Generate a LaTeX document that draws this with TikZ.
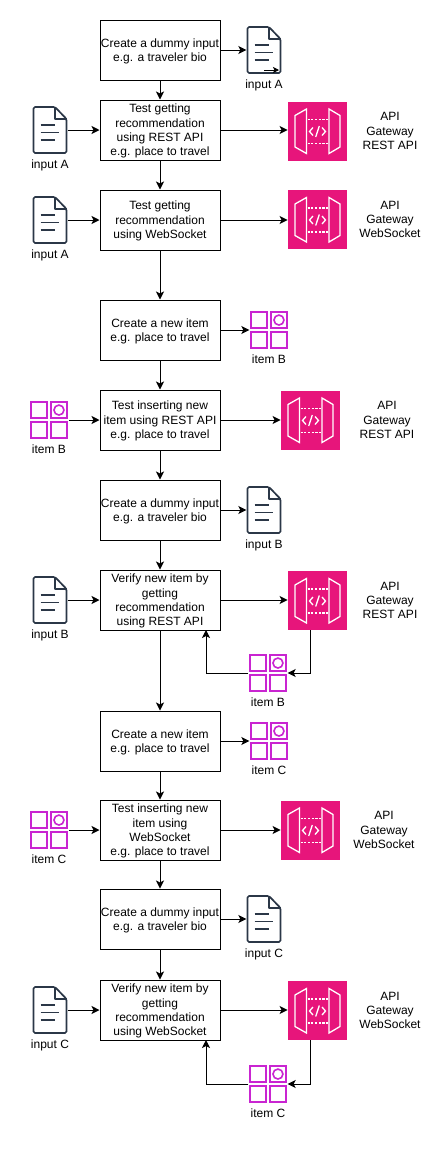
\documentclass[tikz,border=0pt]{standalone}
\usepackage{fontspec}
\setmainfont{Liberation Sans}
\usetikzlibrary{arrows.meta}
\definecolor{gwpink}{HTML}{E7157B}
\definecolor{docink}{HTML}{2B3747}
\definecolor{itemink}{HTML}{C925D1}
\tikzset{
  x=1pt,y=-1pt,
  flowbox/.style={draw=black,line width=1pt,minimum width=120pt,minimum height=60pt,inner sep=0pt},
  lbl/.style={inner sep=0pt,align=center,font=\fontsize{12}{14.4}\selectfont},
  conn/.style={draw=black,line width=1pt,-{Stealth[length=8pt,width=8pt,inset=2pt]}},
  smallconn/.style={draw=black,line width=0.8pt,-{Stealth[length=6pt,width=6pt,inset=1.5pt]}},
  docanchor/.style={minimum width=35pt,minimum height=47pt,inner sep=0pt},
  gwanchor/.style={minimum width=59.5pt,minimum height=59.5pt,inner sep=0pt},
  itemanchor/.style={minimum width=39pt,minimum height=39pt,inner sep=0pt},
  pics/docicon/.style={code={
    \draw[docink,line width=1.7pt,line join=round,rounded corners=1.5pt,fill=white]
      (-16.5,-23) -- (5,-23) -- (16.5,-11) -- (16.5,23) -- (-16.5,23) -- cycle;
    \draw[docink,line width=1.4pt,line join=round] (5,-23) -- (5,-11) -- (16.5,-11);
    \draw[docink,line width=1.5pt] (-9.3,-5) -- (5,-5) (-9.3,2.5) -- (9.3,2.5) (-9.3,10) -- (5,10);
  }},
  pics/itemicon/.style={code={
    \draw[itemink,line width=1.7pt,fill=white] (-18.2,-18.2) rectangle (-1.7,-1.7);
    \draw[itemink,line width=1.7pt,fill=white] (1.7,-18.2) rectangle (18.2,-1.7);
    \draw[itemink,line width=1.7pt,fill=white] (-18.2,1.7) rectangle (-1.7,18.2);
    \draw[itemink,line width=1.7pt,fill=white] (1.7,1.7) rectangle (18.2,18.2);
    \draw[itemink,line width=1.6pt] (9.95,-9.95) circle (5);
  }},
  pics/gwicon/.style={code={
    \fill[gwpink] (-29.5,-29.5) rectangle (29.5,29.5);
    \draw[white,line width=1.3pt,line join=miter]
      (-22.5,-15.5) -- (-11,-22) -- (-11,22.5) -- (-22.5,16) -- cycle;
    \draw[white,line width=1.3pt,line join=miter]
      (22.5,-15.5) -- (11.5,-22) -- (11.5,22.5) -- (22.5,16) -- cycle;
    \draw[white,line width=1.3pt,dash pattern=on 2.2pt off 1.5pt]
      (-10,-11.5) -- (10.5,-11.5) (-10,12.5) -- (10.5,12.5);
    \draw[white,line width=1.3pt] (-4.5,-3.5) -- (-8,0.5) -- (-4.5,4.5)
      (4.5,-3.5) -- (8,0.5) -- (4.5,4.5) (1.8,-5) -- (-1.8,6);
  }},
}
\newcommand{\flowat}[3]{% name, y, text
  \node[flowbox] (#1) at (160,#2) {};
  \node[lbl] (#1t) at (160,#2+1.2) {#3};
}
\newcommand{\docat}[4]{% name, x, y, label
  \pic at (#2,#3) {docicon};
  \node[docanchor] (#1) at (#2,#3) {};
  \node[lbl] (#1t) at (#2,#3+35) {#4};
}
\newcommand{\itemat}[4]{%
  \pic at (#2,#3) {itemicon};
  \node[itemanchor] (#1) at (#2,#3) {};
  \node[lbl] (#1t) at (#2,#3+29.5) {#4};
}
\newcommand{\gwat}[5]{% name,x,y,labelx,label
  \pic at (#2,#3) {gwicon};
  \node[gwanchor] (#1) at (#2,#3) {};
  \node[lbl] (#1t) at (#4,#3) {API\\Gateway\\#5};
}
\begin{document}
\begin{tikzpicture}
\useasboundingbox (0,0) rectangle (441,1149);
% boxes
\flowat{b1}{50}{Create a dummy input\\e.g. a traveler bio}
\flowat{b2}{130}{Test getting\\recommendation\\using REST API\\e.g. place to travel}
\flowat{b3}{220}{Test getting\\recommendation\\using WebSocket}
\flowat{b4}{330}{Create a new item\\e.g. place to travel}
\flowat{b5}{420}{Test inserting new\\item using REST API\\e.g. place to travel}
\flowat{b6}{510}{Create a dummy input\\e.g. a traveler bio}
\flowat{b7}{600}{Verify new item by\\getting\\recommendation\\using REST API}
\flowat{b8}{741}{Create a new item\\e.g. place to travel}
\flowat{b9}{830}{Test inserting new\\item using\\WebSocket\\e.g. place to travel}
\flowat{b10}{919}{Create a dummy input\\e.g. a traveler bio}
\flowat{b11}{1010}{Verify new item by\\getting\\recommendation\\using WebSocket}
% icons
\docat{d1}{264}{50}{input A}
\docat{d2}{50}{130}{input A}
\docat{d3}{50}{220}{input A}
\docat{d6}{264}{510}{input B}
\docat{d7}{50}{600}{input B}
\docat{d10}{264}{919}{input C}
\docat{d11}{50}{1010}{input C}
\itemat{i4}{269}{330}{item B}
\itemat{i5}{49}{420}{item B}
\itemat{i7}{268}{673}{item B}
\itemat{i8}{269}{741}{item C}
\itemat{i9}{49}{830}{item C}
\itemat{i11}{268}{1084}{item C}
\gwat{g2}{317.5}{131}{390}{REST API}
\gwat{g3}{317.5}{219.5}{390}{WebSocket}
\gwat{g5}{310.5}{420}{387}{REST API}
\gwat{g7}{317.5}{600.5}{390}{REST API}
\gwat{g9}{310.5}{830}{384}{WebSocket}
\gwat{g11}{317.5}{1010.5}{390}{WebSocket}
% vertical flow
\foreach \a/\b in {b1/b2,b2/b3,b3/b4,b4/b5,b5/b6,b6/b7,b7/b8,b8/b9,b9/b10,b10/b11}
  \draw[conn] (\a) -- (\b);
% horizontals
\foreach \a/\b in {b1/d1,d2/b2,d3/b3,b4/i4,i5/b5,b6/d6,d7/b7,b8/i8,i9/b9,b10/d10,d11/b11}
  \draw[conn] (\a) -- (\b);
\foreach \a/\b in {b2/g2,b3/g3,b5/g5,b7/g7,b9/g9,b11/g11}
  \draw[conn] (\a.east) -- (\a.east -| \b.west);
% stray arrow on the first document
\coordinate (s1) at (264,70);
\coordinate (s2) at (279,70);
\draw[smallconn] (s1) -- (s2);
% feedback loops
\coordinate (l7a) at (310,630);
\coordinate (l7b) at (206,630);
\coordinate (l11a) at (310,1040);
\coordinate (l11b) at (206,1040);
\draw[conn] (l7a) |- (i7.east);
\draw[conn] (i7.west) -| (l7b);
\draw[conn] (l11a) |- (i11.east);
\draw[conn] (i11.west) -| (l11b);
\end{tikzpicture}
\end{document}
